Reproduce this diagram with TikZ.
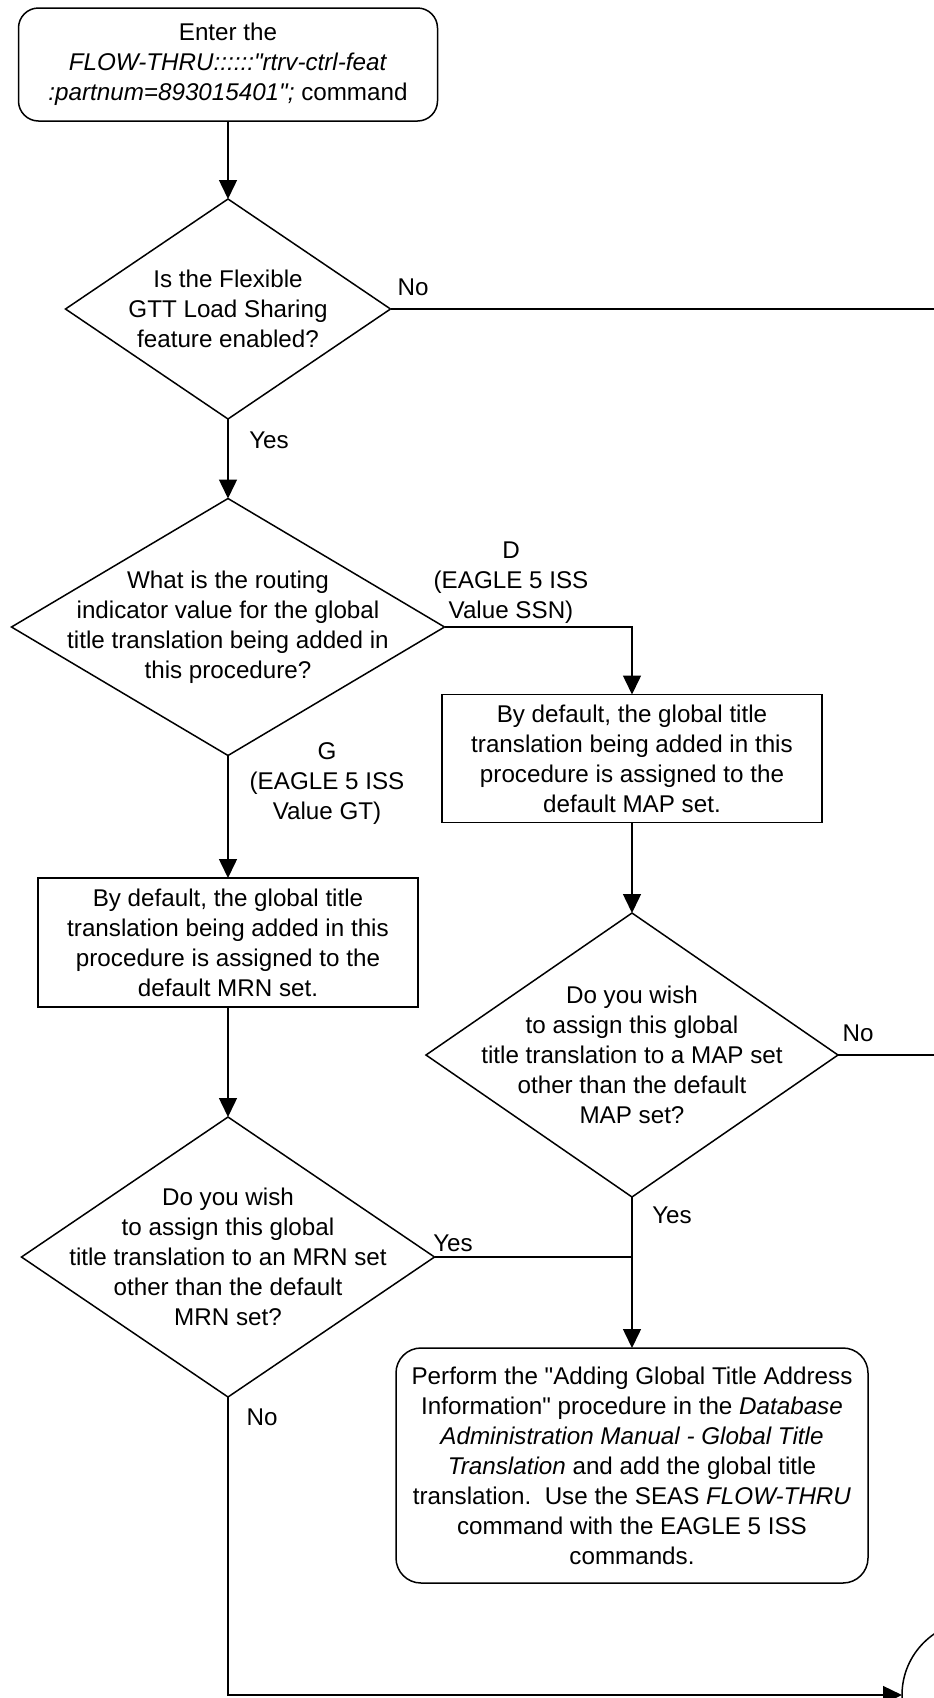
\documentclass[tikz,border=0pt]{standalone}
\usepackage{fontspec}
\setmainfont{Liberation Sans}[Ligatures=TeXOff]
\usetikzlibrary{shapes.geometric,arrows.meta}
\begin{document}
\begin{tikzpicture}[x=1pt,y=-1pt,
  every node/.style={font=\fontsize{24.2}{30}\selectfont, inner sep=0pt, outer sep=0pt},
  line/.style={line width=1.5pt, draw=black},
  arr/.style={line, -{Triangle[length=19pt,width=18pt]}},
  proc/.style={draw, line width=1.5pt, rectangle, align=center},
  term/.style={proc, rounded corners=20pt},
  dec/.style={draw, line width=1.5pt, diamond},
  txt/.style={align=center},
  lbl/.style={align=center}]
\useasboundingbox (0,0) rectangle (934,1698);
\clip (0,0) rectangle (934,1698);

% nodes
\node[term, minimum width=419, minimum height=113] (start) at (228,64.5)
  {Enter the\\\textit{FLOW-THRU::::::"rtrv-ctrl-feat}\\\textit{:partnum=893015401";} command};

\node[dec, minimum width=325, minimum height=220] (d1) at (228,309) {};
\node[txt] (d1t) at (d1.center) {Is the Flexible\\GTT Load Sharing\\feature enabled?};

\node[dec, minimum width=433, minimum height=257] (d2) at (228,627) {};
\node[txt] (d2t) at (d2.center) {What is the routing\\indicator value for the global\\title translation being added in\\this procedure?};

\node[proc, minimum width=380, minimum height=128] (bd) at (632,758.5)
  {By default, the global title\\translation being added in this\\procedure is assigned to the\\default MAP set.};

\node[proc, minimum width=380, minimum height=129] (mrn) at (228,942.5)
  {By default, the global title\\translation being added in this\\procedure is assigned to the\\default MRN set.};

\node[dec, minimum width=412, minimum height=284] (d3) at (632,1055) {};
\node[txt] (d3t) at (d3.center) {Do you wish\\to assign this global\\title translation to a MAP set\\other than the default\\MAP set?};

\node[dec, minimum width=413, minimum height=280] (d4) at (228,1257) {};
\node[txt] (d4t) at (d4.center) {Do you wish\\to assign this global\\title translation to an MRN set\\other than the default\\MRN set?};

\node[proc, rounded corners=25pt, minimum width=472, minimum height=235] (pf) at (632,1465.5)
  {Perform the "Adding Global Title Address\\Information" procedure in the \textit{Database}\\\textit{Administration Manual - Global Title}\\\textit{Translation} and add the global title\\translation.\ \ Use the SEAS \textit{FLOW-THRU}\\command with the EAGLE 5 ISS\\commands.};

\node[draw, line width=1.5pt, circle, minimum size=148] (off) at (976,1695) {};

% connectors
\coordinate (e1) at (934,309);
\coordinate (e3) at (934,1055);
\draw[arr] (start) -- (d1);
\draw[line] (d1.east) -- (e1);
\draw[arr] (d1) -- (d2);
\draw[arr] (d2.east) -| (bd.north);
\draw[arr] (d2) -- (mrn);
\draw[arr] (mrn) -- (d4);
\draw[arr] (bd) -- (d3);
\draw[line] (d3.east) -- (e3);
\draw[arr] (d3) -- (pf);
\coordinate (m) at (d4.east -| d3.south);
\draw[line] (d4.east) -- (m);
\draw[arr] (d4.south) |- (off);

% labels
\node[lbl] (l1) at (413,287) {No};
\node[lbl] (l2) at (269,440) {Yes};
\node[lbl] (l3) at (511,583) {D\\(EAGLE 5 ISS\\Value SSN)};
\node[lbl] (l4) at (327,784) {G\\(EAGLE 5 ISS\\Value GT)};
\node[lbl] (l5) at (858,1033) {No};
\node[lbl] (l6) at (672,1215) {Yes};
\node[lbl] (l7) at (453,1243) {Yes};
\node[lbl] (l8) at (262,1417) {No};
\end{tikzpicture}
\end{document}
